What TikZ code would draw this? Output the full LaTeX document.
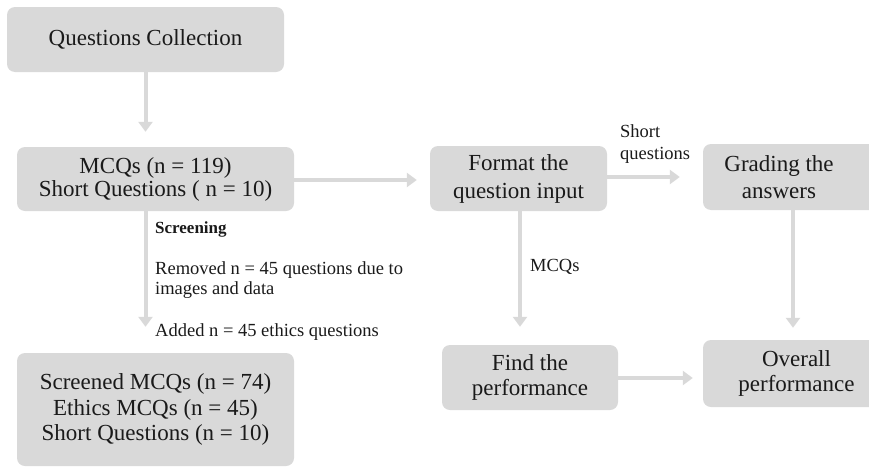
\documentclass[tikz,border=0pt]{standalone}
\usepackage{fontspec}
\setmainfont{Liberation Serif}
\usetikzlibrary{arrows.meta}
\definecolor{boxgray}{HTML}{D9D9D9}
\definecolor{arrgray}{HTML}{D9D9D9}
\definecolor{txt}{HTML}{1A1A1A}
\begin{document}
\begin{tikzpicture}[x=1pt,y=-1pt,
  box/.style={fill=boxgray, rounded corners=8pt, align=center, inner sep=0pt,
    font=\fontsize{23}{25}\selectfont, text=txt},
  lbl/.style={anchor=west, align=left, inner sep=0pt,
    font=\fontsize{18.5}{20}\selectfont, text=txt},
  arr/.style={draw=arrgray, line width=4pt, -{Triangle[width=14pt,length=10pt]}}]
\useasboundingbox (0,0) rectangle (869,466);
\clip (0,0) rectangle (869,466);
% boxes
\node[box, minimum width=277pt, minimum height=65pt] (q1) at (145.5,39.5) {Questions Collection};
\node[box, minimum width=277pt, minimum height=64pt, font=\fontsize{23}{23}\selectfont] (q2) at (155.5,179) {MCQs (n = 119)\\Short Questions ( n = 10)};
\node[box, minimum width=277pt, minimum height=113pt, font=\fontsize{23}{25.5}\selectfont] (q3) at (155.5,409.5) {Screened MCQs (n = 74)\\Ethics MCQs (n = 45)\\Short Questions (n = 10)};
\node[box, minimum width=177pt, minimum height=65pt, font=\fontsize{23}{28}\selectfont] (fmt) at (518.5,178.5) {Format the\\question input};
\node[box, minimum width=187pt, minimum height=66pt, font=\fontsize{23}{27}\selectfont] (grd) at (796.5,177) {Grading the\hspace*{35pt}\\answers\hspace*{35pt}};
\node[box, minimum width=176pt, minimum height=65pt] (find) at (530,377.5) {Find the\\performance};
\node[box, minimum width=187pt, minimum height=67pt] (over) at (796.5,373.5) {Overall\\performance};
% labels
\node[lbl, font=\fontsize{17}{20}\selectfont\bfseries] (scr) at (155,229) {Screening};
\node[lbl] (rem) at (155,280) {Removed n = 45 questions due to\\images and data};
\node[lbl] (add) at (155,332) {Added n = 45 ethics questions};
\node[lbl] (mcq) at (530,267) {MCQs};
\node[lbl, font=\fontsize{18.5}{22}\selectfont] (shq) at (620,144) {Short\\questions};
% connectors
\draw[arr, shorten >=15pt] (q1.south) -- (q2.north -| q1.south);
\draw[arr, shorten >=13pt] (q2.east |- 0,180) -- (fmt.west |- 0,180);
\draw[arr, shorten >=26pt] (q2.south -| q1.south) -- (q3.north -| q1.south);
\draw[arr, shorten >=18pt] ([xshift=1.5pt]fmt.south) -- ([xshift=1.5pt]fmt.south |- find.north);
\draw[arr, shorten >=23pt] (fmt.east |- 0,177) -- (grd.west |- 0,177);
\draw[arr, shorten >=12pt] ([xshift=-3.5pt]grd.south) -- ([xshift=-3.5pt]grd.south |- over.north);
\draw[arr, shorten >=10pt] (find.east |- 0,378) -- (over.west |- 0,378);
\end{tikzpicture}
\end{document}
